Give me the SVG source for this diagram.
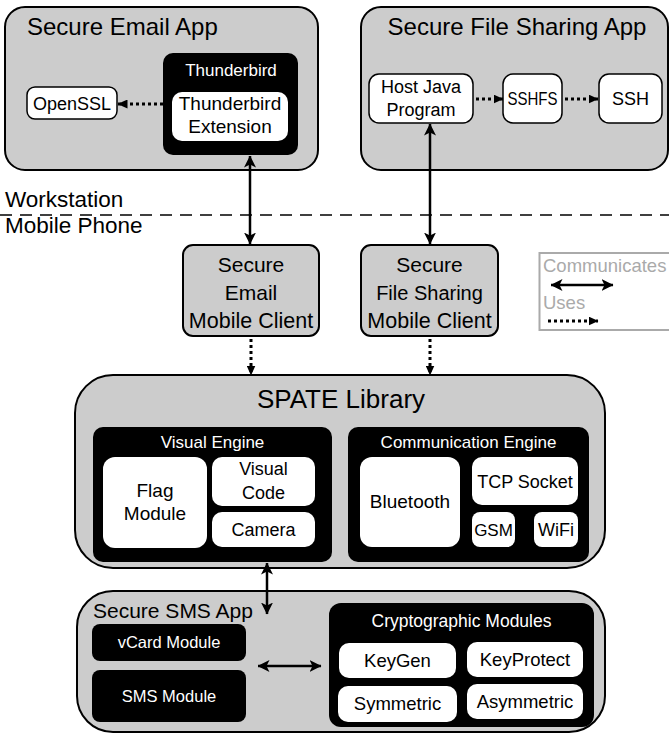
<svg xmlns="http://www.w3.org/2000/svg" width="669" height="734" viewBox="0 0 669 734">
<style>
text{font-family:"Liberation Sans",Arial,sans-serif;fill:#000}
.c{text-anchor:middle}
.w{fill:#fff}
.gray{fill:#cccccc;stroke:#000;stroke-width:2}
.blk{fill:#000}
.wb{fill:#fff;stroke:#000;stroke-width:1.5}
.wi{fill:#fff}
.lg{fill:#aaaaaa}
.sol{stroke:#000;stroke-width:2.5;fill:none;marker-start:url(#ah);marker-end:url(#ah)}
.dot{stroke:#000;stroke-width:3;stroke-dasharray:3 3;fill:none;marker-end:url(#dh)}
</style>
<defs>
<marker id="ah" viewBox="0 0 12 12" refX="11.5" refY="6" markerWidth="12" markerHeight="12" orient="auto-start-reverse" markerUnits="userSpaceOnUse"><path d="M0,0 L12,6 L0,12 L3,6 z" fill="#000"/></marker>
<marker id="dh" viewBox="0 0 10 9" refX="9.5" refY="4.5" markerWidth="10" markerHeight="9" orient="auto" markerUnits="userSpaceOnUse"><path d="M0,0 L10,4.5 L0,9 z" fill="#000"/></marker>
</defs>

<g id="workstation-divider">
<line x1="0" y1="215" x2="669" y2="215" stroke="#000" stroke-width="1.5" stroke-dasharray="12 8"/>
<text x="5" y="207" font-size="22.5">Workstation</text>
<text x="5" y="233" font-size="22.5">Mobile Phone</text>
</g>

<g id="secure-email-app">
<rect class="gray" x="5" y="7" width="313" height="163" rx="20"/>
<text x="27" y="35" font-size="24">Secure Email App</text>
</g>
<g id="openssl">
<rect class="wb" x="27" y="87" width="90" height="32" rx="8"/>
<text class="c" x="72" y="110" font-size="18">OpenSSL</text>
</g>
<g id="thunderbird">
<rect class="blk" x="163" y="53" width="135" height="102" rx="10"/>
<text class="c w" x="231" y="76" font-size="17">Thunderbird</text>
</g>
<g id="thunderbird-extension">
<rect class="wi" x="172" y="92" width="116" height="49" rx="10"/>
<text class="c" x="230" y="110" font-size="19">Thunderbird</text>
<text class="c" x="230" y="133" font-size="19">Extension</text>
</g>

<g id="secure-file-sharing-app">
<rect class="gray" x="361" y="7" width="307" height="163" rx="20"/>
<text class="c" x="517" y="35" font-size="24">Secure File Sharing App</text>
</g>
<g id="host-java-program">
<rect class="wb" x="369" y="74" width="104" height="49" rx="10"/>
<text class="c" x="421" y="93" font-size="18">Host Java</text>
<text class="c" x="421" y="116" font-size="18">Program</text>
</g>
<g id="sshfs">
<rect class="wb" x="503" y="74" width="59" height="49" rx="10"/>
<text class="c" x="532.5" y="105" font-size="18" textLength="50" lengthAdjust="spacingAndGlyphs">SSHFS</text>
</g>
<g id="ssh">
<rect class="wb" x="599" y="74" width="63" height="49" rx="10"/>
<text class="c" x="630.5" y="105" font-size="18">SSH</text>
</g>

<g id="email-mobile-client">
<rect class="gray" x="183" y="245" width="136" height="91" rx="10"/>
<text class="c" x="251" y="272" font-size="21">Secure</text>
<text class="c" x="251" y="300" font-size="21">Email</text>
<text class="c" x="251" y="328" font-size="21.5">Mobile Client</text>
</g>
<g id="file-sharing-mobile-client">
<rect class="gray" x="361" y="245" width="137" height="91" rx="10"/>
<text class="c" x="429.5" y="272" font-size="21">Secure</text>
<text class="c" x="429.5" y="300" font-size="20">File Sharing</text>
<text class="c" x="429.5" y="328" font-size="21.5">Mobile Client</text>
</g>

<g id="legend">
<rect x="539.5" y="253" width="140" height="77" fill="#fff" stroke="#aaaaaa" stroke-width="2"/>
<text class="lg" x="543" y="272" font-size="18.5">Communicates</text>
<text class="lg" x="543" y="309" font-size="18.5">Uses</text>
<line class="sol" x1="551" y1="285" x2="613" y2="285"/>
<line class="dot" x1="548" y1="321" x2="598" y2="321"/>
</g>

<g id="spate-library">
<rect class="gray" x="75" y="375" width="530" height="193" rx="38"/>
<text class="c" x="341" y="408" font-size="26">SPATE Library</text>
</g>
<g id="visual-engine">
<rect class="blk" x="93" y="427" width="239" height="135" rx="10"/>
<text class="c w" x="212.5" y="448" font-size="17">Visual Engine</text>
</g>
<g id="flag-module">
<rect class="wi" x="103" y="457" width="104" height="91" rx="12"/>
<text class="c" x="155" y="497" font-size="19">Flag</text>
<text class="c" x="155" y="520" font-size="19">Module</text>
</g>
<g id="visual-code">
<rect class="wi" x="212" y="457" width="103" height="49" rx="10"/>
<text class="c" x="263.5" y="475" font-size="18">Visual</text>
<text class="c" x="263.5" y="499" font-size="18">Code</text>
</g>
<g id="camera">
<rect class="wi" x="212" y="512" width="103" height="35" rx="10"/>
<text class="c" x="263.5" y="536" font-size="18">Camera</text>
</g>
<g id="communication-engine">
<rect class="blk" x="348" y="427" width="241" height="135" rx="10"/>
<text class="c w" x="468.5" y="448" font-size="17">Communication Engine</text>
</g>
<g id="bluetooth">
<rect class="wi" x="360" y="457" width="100" height="90" rx="12"/>
<text class="c" x="410" y="508" font-size="19">Bluetooth</text>
</g>
<g id="tcp-socket">
<rect class="wi" x="472" y="457" width="106" height="48" rx="10"/>
<text class="c" x="525" y="488" font-size="18">TCP Socket</text>
</g>
<g id="gsm">
<rect class="wi" x="472" y="512" width="43" height="35" rx="8"/>
<text class="c" x="493.5" y="536" font-size="17">GSM</text>
</g>
<g id="wifi">
<rect class="wi" x="534" y="512" width="44" height="35" rx="8"/>
<text class="c" x="556" y="536" font-size="18">WiFi</text>
</g>

<g id="secure-sms-app">
<rect class="gray" x="77" y="591" width="528" height="141" rx="36"/>
<text x="93" y="618" font-size="21">Secure SMS App</text>
</g>
<g id="vcard-module">
<rect class="blk" x="92" y="624" width="154" height="37" rx="8"/>
<text class="c w" x="169" y="648" font-size="16.5">vCard Module</text>
</g>
<g id="sms-module">
<rect class="blk" x="92" y="670" width="154" height="52" rx="8"/>
<text class="c w" x="169" y="702" font-size="16.5">SMS Module</text>
</g>
<g id="cryptographic-modules">
<rect class="blk" x="329" y="603" width="265" height="124" rx="12"/>
<text class="c w" x="461.5" y="627" font-size="17.5">Cryptographic Modules</text>
</g>
<g id="keygen">
<rect class="wi" x="339" y="643" width="117" height="35" rx="10"/>
<text class="c" x="397.5" y="667" font-size="18.5">KeyGen</text>
</g>
<g id="keyprotect">
<rect class="wi" x="467" y="642" width="116" height="35" rx="10"/>
<text class="c" x="525" y="666" font-size="18.5">KeyProtect</text>
</g>
<g id="symmetric">
<rect class="wi" x="338" y="686" width="119" height="36" rx="10"/>
<text class="c" x="397.5" y="710" font-size="18.5">Symmetric</text>
</g>
<g id="asymmetric">
<rect class="wi" x="467" y="684" width="116" height="35" rx="10"/>
<text class="c" x="525" y="708" font-size="18.5">Asymmetric</text>
</g>

<g id="connectors">
<line class="dot" x1="163" y1="104" x2="118" y2="104"/>
<line class="dot" x1="476" y1="99" x2="503" y2="99"/>
<line class="dot" x1="565" y1="99" x2="598" y2="99"/>
<line class="sol" x1="250" y1="156" x2="250" y2="244"/>
<line class="sol" x1="430" y1="124" x2="430" y2="244"/>
<line class="dot" x1="251" y1="339" x2="251" y2="375"/>
<line class="dot" x1="430" y1="339" x2="430" y2="375"/>
<line class="sol" x1="267" y1="563" x2="267" y2="614"/>
<line class="sol" x1="258" y1="666" x2="321" y2="666"/>
</g>
</svg>
